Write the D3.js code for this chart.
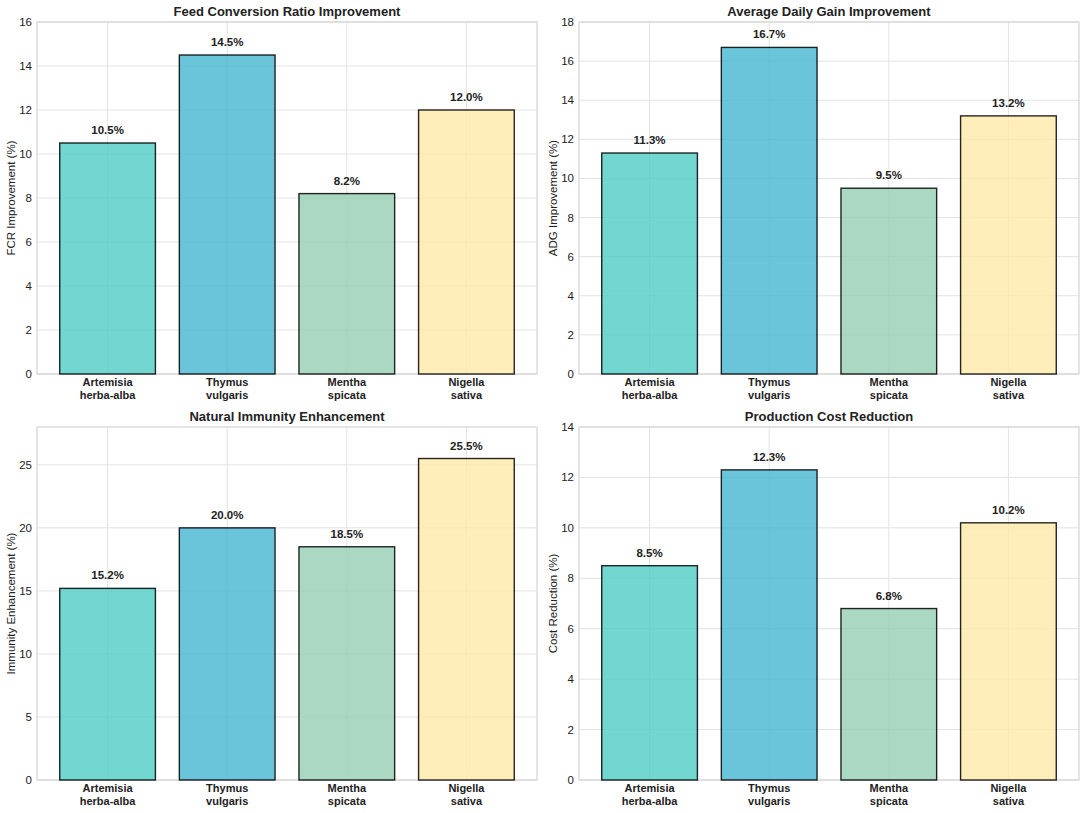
<!DOCTYPE html>
<html><head><meta charset="utf-8">
<script src="https://cdn.jsdelivr.net/npm/d3@7"></script>
<style>
html,body{margin:0;padding:0;background:#fff;}
svg{display:block;font-family:"Liberation Sans",Arial,sans-serif;}
</style></head>
<body>
<svg id="c" width="1086" height="813"></svg>
<script>
const categories = ["Artemisia\nherba-alba", "Thymus\nvulgaris", "Mentha\nspicata", "Nigella\nsativa"];
const colors = ["#4ECDC4", "#45B7D1", "#96CEB4", "#FFEAA7"];
const fcrValues = [10.5, 14.5, 8.2, 12.0];
const adgValues = [11.3, 16.7, 9.5, 13.2];
const immunityValues = [15.2, 20.0, 18.5, 25.5];
const costValues = [8.5, 12.3, 6.8, 10.2];
const titles = ["Feed Conversion Ratio Improvement", "Average Daily Gain Improvement", "Natural Immunity Enhancement", "Production Cost Reduction"];
const yLabels = ["FCR Improvement (%)", "ADG Improvement (%)", "Immunity Enhancement (%)", "Cost Reduction (%)"];
const yMax = [16, 18, 28, 14];
const yTicks = [[0,2,4,6,8,10,12,14,16],[0,2,4,6,8,10,12,14,16,18],[0,5,10,15,20,25],[0,2,4,6,8,10,12,14]];

const panels = [
  {vals: fcrValues, x: 37, y: 22, w: 500, h: 352},
  {vals: adgValues, x: 579, y: 22, w: 500, h: 352},
  {vals: immunityValues, x: 37, y: 427, w: 500, h: 353},
  {vals: costValues, x: 579, y: 427, w: 500, h: 353}
];

const svg = d3.select("#c");
panels.forEach((p, i) => {
  const g = svg.append("g");
  const x = d3.scaleLinear().domain([-0.59, 3.59]).range([p.x, p.x + p.w]);
  const y = d3.scaleLinear().domain([0, yMax[i]]).range([p.y + p.h, p.y]);
  g.selectAll(".hg").data(yTicks[i]).enter().append("line")
    .attr("x1", p.x).attr("x2", p.x + p.w)
    .attr("y1", d => y(d)).attr("y2", d => y(d))
    .attr("stroke", "#e3e3e3").attr("stroke-width", 1);
  g.selectAll(".vg").data(categories).enter().append("line")
    .attr("x1", (d, j) => x(j)).attr("x2", (d, j) => x(j))
    .attr("y1", p.y).attr("y2", p.y + p.h)
    .attr("stroke", "#e3e3e3").attr("stroke-width", 1);
  g.append("rect").attr("x", p.x).attr("y", p.y).attr("width", p.w).attr("height", p.h)
    .attr("fill", "none").attr("stroke", "#d4d4d4").attr("stroke-width", 1.2);
  g.selectAll(".bar").data(p.vals).enter().append("rect")
    .attr("x", (d, j) => x(j - 0.4)).attr("width", (d, j) => x(j + 0.4) - x(j - 0.4))
    .attr("y", d => y(d)).attr("height", d => y(0) - y(d))
    .attr("fill", (d, j) => colors[j]).attr("fill-opacity", 0.8)
    .attr("stroke", "#000").attr("stroke-opacity", 0.85).attr("stroke-width", 1.4);
  g.selectAll(".vl").data(p.vals).enter().append("text")
    .attr("x", (d, j) => x(j)).attr("y", d => y(d) - 9)
    .attr("text-anchor", "middle").attr("font-size", 11.5).attr("font-weight", "bold")
    .attr("fill", "#222").text(d => d.toFixed(1) + "%");
  g.selectAll(".yt").data(yTicks[i]).enter().append("text")
    .attr("x", p.x - 5).attr("y", d => y(d) + 4)
    .attr("text-anchor", "end").attr("font-size", 11.5).attr("fill", "#222")
    .text(d => d);
  categories.forEach((c, j) => {
    const t = g.append("text").attr("text-anchor", "middle").attr("font-size", 11)
      .attr("font-weight", "bold").attr("fill", "#222");
    c.split("\n").forEach((line, k) => {
      t.append("tspan").attr("x", x(j)).attr("y", p.y + p.h + 12 + k * 13).text(line);
    });
  });
  g.append("text").attr("x", p.x + p.w / 2).attr("y", p.y - 6)
    .attr("text-anchor", "middle").attr("font-size", 13).attr("font-weight", "bold")
    .attr("fill", "#222").text(titles[i]);
  g.append("text").attr("transform", `translate(${p.x - 22},${p.y + p.h / 2}) rotate(-90)`)
    .attr("text-anchor", "middle").attr("font-size", 11.5).attr("fill", "#222")
    .text(yLabels[i]);
});
</script>
</body></html>
